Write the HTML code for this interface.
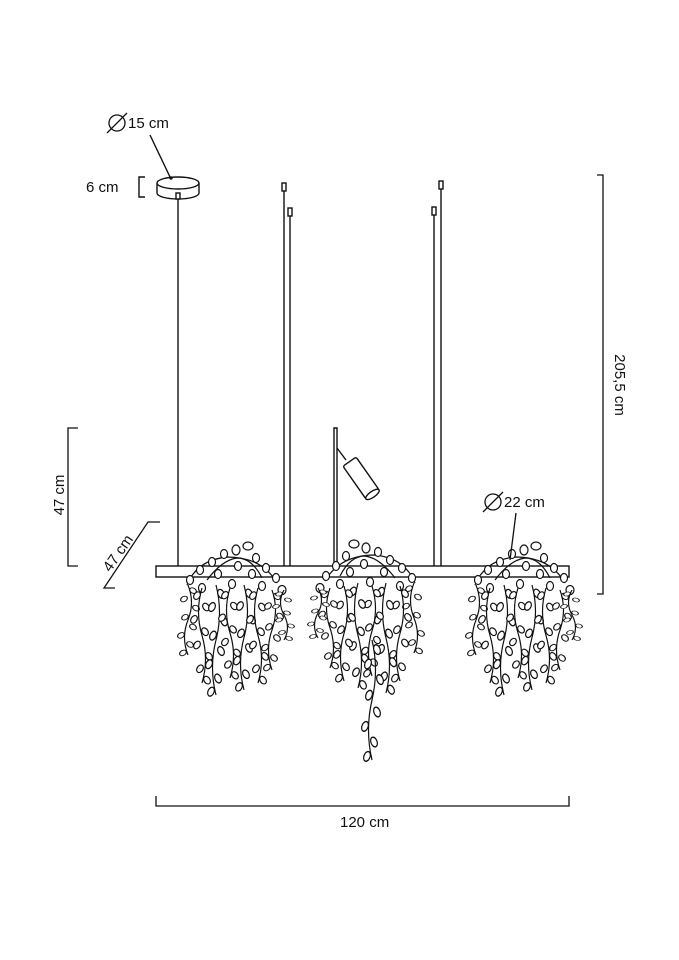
<!DOCTYPE html>
<html><head><meta charset="utf-8"><style>
html,body{margin:0;padding:0;background:#fff;}
svg{display:block}
text{font-family:"Liberation Sans",sans-serif;fill:#111;font-size:15px}
</style></head><body>
<svg width="679" height="960" viewBox="0 0 679 960" xmlns="http://www.w3.org/2000/svg">
<defs>
<g id="strand" fill="#fff" stroke="#111" stroke-width="1.2">
<path d="M0,0 q7,25 0,50 q-7,25 0,50" fill="none"/>
<ellipse cx="5" cy="8" rx="3" ry="4.3" transform="rotate(-30 5 8)"/>
<ellipse cx="-4" cy="20" rx="3" ry="4.3" transform="rotate(30 -4 20)"/>
<ellipse cx="8" cy="33" rx="3" ry="4.3" transform="rotate(-30 8 33)"/>
<ellipse cx="-3" cy="46" rx="3" ry="4.3" transform="rotate(30 -3 46)"/>
<ellipse cx="5" cy="60" rx="3" ry="4.3" transform="rotate(-30 5 60)"/>
<ellipse cx="-7" cy="72" rx="3" ry="4.3" transform="rotate(30 -7 72)"/>
<ellipse cx="2" cy="85" rx="3" ry="4.3" transform="rotate(-30 2 85)"/>
<ellipse cx="-5" cy="97" rx="3" ry="4.3" transform="rotate(30 -5 97)"/>
</g>
<g id="mound" fill="#fff" stroke="#111" stroke-width="1.2">
<path d="M-45,25 q10,-25 40,-28 q35,0 50,26" fill="none"/>
<path d="M-25,20 q15,-20 30,-22 M5,-2 q15,0 25,20" fill="none"/>
<ellipse cx="-42" cy="20" rx="3.5" ry="4.5"/>
<ellipse cx="-32" cy="10" rx="3.5" ry="4.5"/>
<ellipse cx="-20" cy="2" rx="3.5" ry="4.5"/>
<ellipse cx="-8" cy="-6" rx="3.5" ry="4.5"/>
<ellipse cx="4" cy="-10" rx="4" ry="5"/>
<ellipse cx="16" cy="-14" rx="5" ry="4"/>
<ellipse cx="24" cy="-2" rx="3.5" ry="4.5"/>
<ellipse cx="34" cy="8" rx="3.5" ry="4.5"/>
<ellipse cx="44" cy="18" rx="3.5" ry="4.5"/>
<ellipse cx="-14" cy="14" rx="3.5" ry="4.5"/>
<ellipse cx="6" cy="6" rx="3.5" ry="4.5"/>
<ellipse cx="20" cy="14" rx="3.5" ry="4.5"/>
<ellipse cx="-30" cy="28" rx="3.5" ry="4.5"/>
<ellipse cx="0" cy="24" rx="3.5" ry="4.5"/>
<ellipse cx="30" cy="26" rx="3.5" ry="4.5"/>
<ellipse cx="50" cy="30" rx="4" ry="4.5"/>
</g>
<g id="cluster">
<use href="#mound"/>
<use href="#strand" transform="translate(-44,25) scale(1,0.7)"/>
<use href="#strand" transform="translate(-30,28) scale(-1,0.95)"/>
<use href="#strand" transform="translate(-16,25) scale(1,1.1)"/>
<use href="#strand" transform="translate(-2,28) scale(-1,0.9)"/>
<use href="#strand" transform="translate(12,25) scale(1,1.05)"/>
<use href="#strand" transform="translate(26,28) scale(-1,0.95)"/>
<use href="#strand" transform="translate(40,30) scale(1,0.8)"/>
<use href="#strand" transform="translate(52,30) scale(-1,0.5)"/>
</g>
</defs>

<g stroke="#111" stroke-width="1.4" fill="none">
<path d="M157,183 v10 a21,6 0 0 0 42,0 v-10"/>
<ellipse cx="178" cy="183" rx="21" ry="6" fill="#fff"/>
<rect x="176" y="193" width="4" height="6" fill="#fff"/>
<line x1="178" y1="199" x2="178" y2="566"/>
<circle cx="171" cy="178" r="1" fill="#111"/>
<line x1="150" y1="135" x2="170" y2="177"/>
<path d="M145,177 h-6 v20 h6"/>
<rect x="282" y="183" width="4" height="8" fill="#fff"/>
<line x1="284" y1="191" x2="284" y2="566"/>
<rect x="288" y="208" width="4" height="8" fill="#fff"/>
<line x1="290" y1="216" x2="290" y2="566"/>
<rect x="439" y="181" width="4" height="8" fill="#fff"/>
<line x1="441" y1="189" x2="441" y2="566"/>
<rect x="432" y="207" width="4" height="8" fill="#fff"/>
<line x1="434" y1="215" x2="434" y2="566"/>
<path d="M334,566 V428 h3 V566"/>
<line x1="337" y1="448" x2="346" y2="460"/>
<g transform="rotate(-35 361 478)"><rect x="353" y="458" width="16" height="40" rx="2" fill="#fff"/><ellipse cx="361" cy="498" rx="8" ry="3" fill="#fff"/></g>
<rect x="156" y="566" width="413" height="11" fill="#fff"/>
</g>

<use href="#cluster" transform="translate(232,560)"/>
<use href="#cluster" transform="translate(370,558) scale(-1,1)"/>
<use href="#strand" transform="translate(372,640) scale(1,1.2)"/>
<use href="#cluster" transform="translate(520,560)"/>

<g stroke="#111" stroke-width="1.3" fill="none">
<line x1="516" y1="513" x2="510" y2="560"/>
<path d="M597,175 h6 V594 h-6"/>
<path d="M78,428 h-10 V566 h10"/>
<path d="M160,522 h-12 L104,588 h11"/>
<path d="M156,796 v10 H569 v-10"/>
</g>
<g stroke="#111" stroke-width="1.3" fill="none">
<circle cx="117" cy="123" r="8"/><line x1="107" y1="133" x2="127" y2="113"/>
<circle cx="493" cy="502" r="8"/><line x1="483" y1="512" x2="503" y2="492"/>
</g>
<text x="128" y="128">15 cm</text>
<text x="86" y="192">6 cm</text>
<text x="504" y="507">22 cm</text>
<text x="340" y="827">120 cm</text>
<text transform="translate(615,385) rotate(90)" text-anchor="middle">205,5 cm</text>
<text transform="translate(64,495) rotate(-90)" text-anchor="middle">47 cm</text>
<text transform="translate(122,556) rotate(-55)" text-anchor="middle">47 cm</text>
</svg>
</body></html>
